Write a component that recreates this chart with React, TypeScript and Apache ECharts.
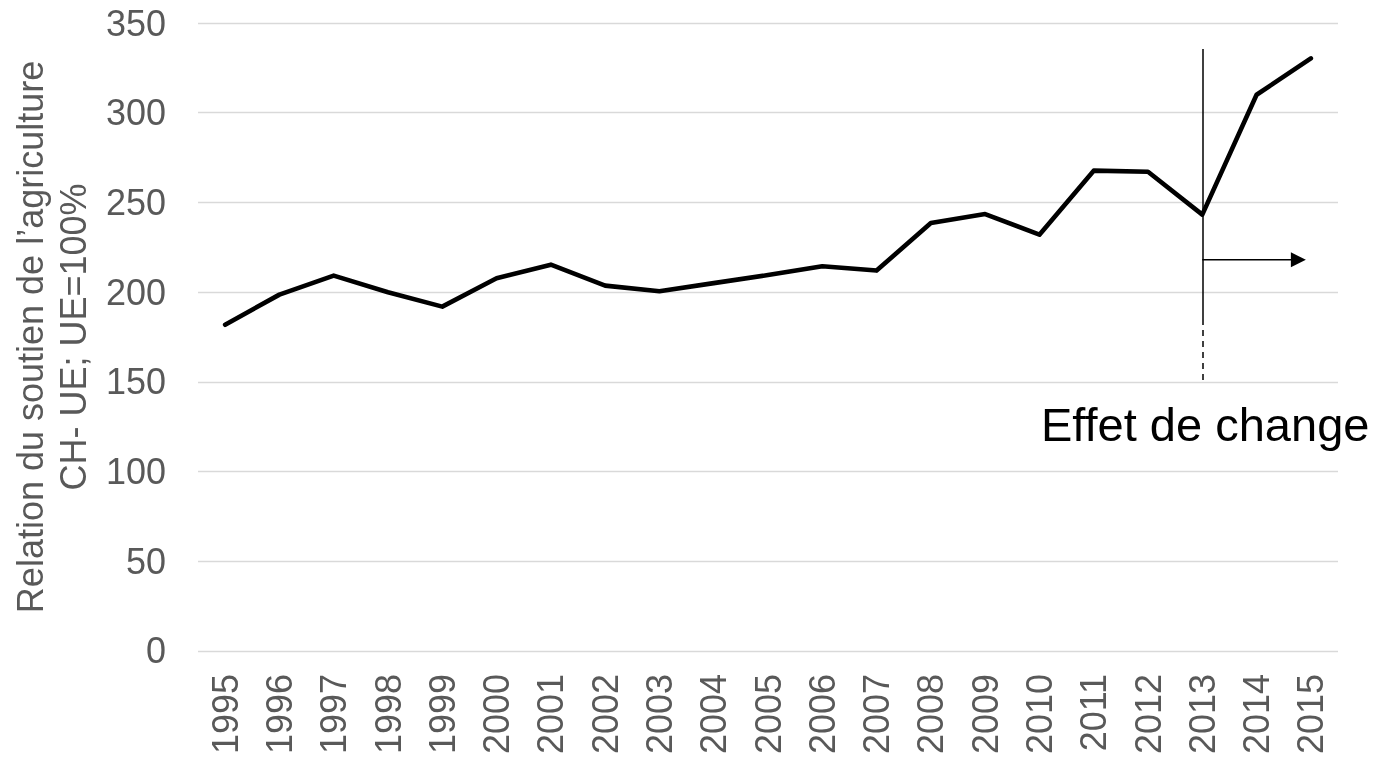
import React, { useEffect, useRef } from "react";
import * as echarts from "echarts";

const years = ["1995","1996","1997","1998","1999","2000","2001","2002","2003","2004","2005","2006","2007","2008","2009","2010","2011","2012","2013","2014","2015"];
const ratio = [181.8,198.6,209.2,199.9,191.9,207.7,215.3,203.6,200.5,205,209.5,214.4,212,238.5,243.5,232,267.7,267.1,243.2,310,330.3];
const yTicks = { min: 0, max: 350, interval: 50 };
const yName = "Relation du soutien de l\u2019agriculture\nCH- UE; UE=100%";
const annotationText = "Effet de change";
const breakYear = "2013";
const lastYear = "2015";
const solidTop = 335.5;
const solidBottom = 185;
const dashBottom = 151;
const arrowLevel = 218;

const FONT = "'Liberation Sans', Arial, sans-serif";
const GRAY = "#595959";

export default function App() {
  const ref = useRef<HTMLDivElement>(null);
  useEffect(() => {
    if (!ref.current) return;
    const chart = echarts.init(ref.current, null, { renderer: "svg" });
    chart.setOption({
      animation: false,
      textStyle: { fontFamily: FONT },
      grid: { left: 198, right: 49, top: 23, bottom: 105, containLabel: false },
      xAxis: {
        type: "category",
        data: years,
        boundaryGap: true,
        axisLine: { show: false },
        axisTick: { show: false },
        axisLabel: { rotate: 90, color: GRAY, fontSize: 36, fontFamily: FONT, margin: 23, interval: 0 },
        splitLine: { show: false },
      },
      yAxis: {
        type: "value",
        min: yTicks.min,
        max: yTicks.max,
        interval: yTicks.interval,
        name: yName,
        nameLocation: "middle",
        nameGap: 100,
        nameTextStyle: { color: GRAY, fontSize: 36, fontFamily: FONT, lineHeight: 43 },
        axisLine: { show: false },
        axisTick: { show: false },
        axisLabel: { color: GRAY, fontSize: 36, fontFamily: FONT, margin: 32 },
        splitLine: { lineStyle: { color: "#d9d9d9", width: 1.4 } },
      },
      series: [
        {
          type: "line",
          data: ratio,
          symbol: "none",
          lineStyle: { color: "#000", width: 4.6, join: "round", cap: "round" },
          z: 3,
          markLine: {
            silent: true,
            symbol: ["none", "none"],
            label: { show: false },
            emphasis: { disabled: true },
            data: [
              [
                { coord: [breakYear, solidTop], lineStyle: { color: "#000", width: 1.5, type: "solid" } },
                { coord: [breakYear, solidBottom] },
              ],
              [
                { coord: [breakYear, solidBottom], lineStyle: { color: "#000", width: 1.5, type: [6, 5] } },
                { coord: [breakYear, dashBottom] },
              ],
            ],
          },
        },
      ],
    });
    const p0 = chart.convertToPixel({ seriesIndex: 0 }, [breakYear, arrowLevel]) as number[];
    const p1 = chart.convertToPixel({ seriesIndex: 0 }, [lastYear, arrowLevel]) as number[];
    const tipX = p1[0] - 5;
    const headLen = 15;
    const headHalf = 7.5;
    const y = p0[1];
    chart.setOption({
      graphic: [
        {
          type: "line",
          silent: true,
          shape: { x1: p0[0], y1: y, x2: tipX - headLen + 1, y2: y },
          style: { stroke: "#000", lineWidth: 1.5 },
        },
        {
          type: "polygon",
          silent: true,
          shape: { points: [[tipX, y], [tipX - headLen, y - headHalf], [tipX - headLen, y + headHalf]] },
          style: { fill: "#000" },
        },
        {
          type: "text",
          left: 1041,
          top: 401,
          style: { text: annotationText, fill: "#000", font: `47px ${FONT}` },
        },
      ],
    });
    return () => chart.dispose();
  }, []);
  return <div ref={ref} style={{ position: "fixed", left: 0, top: 0, width: 1387, height: 757 }} />;
}
